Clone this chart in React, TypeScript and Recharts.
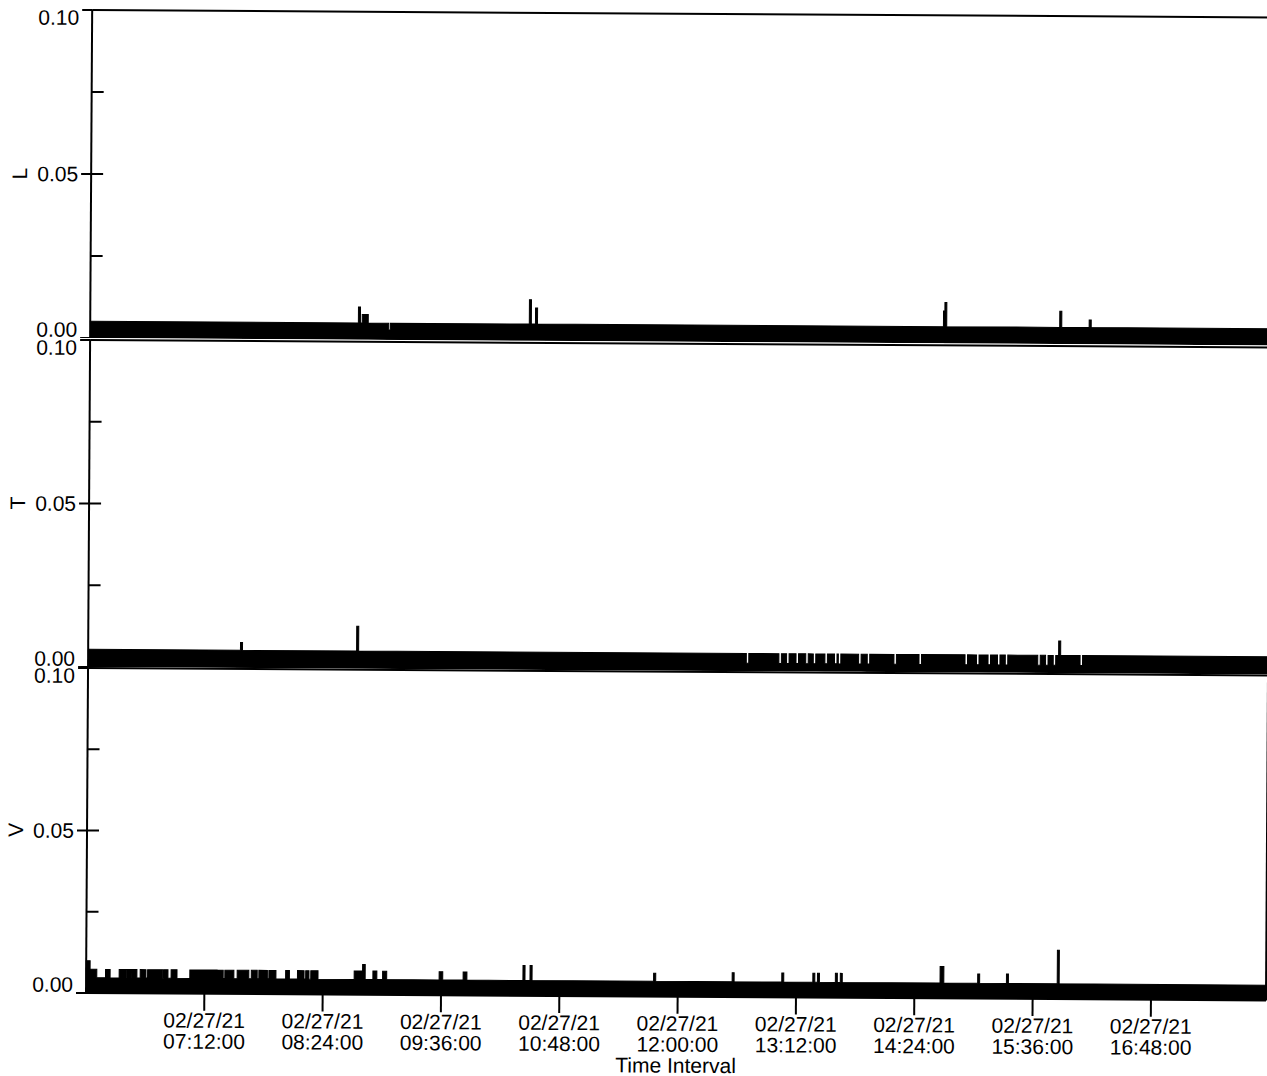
import React from "react";
import { AreaChart, Area, XAxis, YAxis, ReferenceLine } from "recharts";

// [start time, length in seconds, value]
type Ev = [string, number, number];

const DAY = "02/27/21";
const START = "06:00:00";
const END = "17:58:00";

const X_TICKS = ["07:12:00", "08:24:00", "09:36:00", "10:48:00", "12:00:00", "13:12:00", "14:24:00", "15:36:00", "16:48:00"];
const Y_TICKS = [0, 0.025, 0.05, 0.075, 0.1];
const Y_LABELS = [0, 0.05, 0.1];

// ── L ──
const L_BASE = 0.0051;
const L_EVENTS: Ev[] = [
  ["08:43:10", 75, 0.01],
  ["08:45:30", 220, 0.0077],
  ["09:01:40", 60, 0.003],
  ["10:27:10", 75, 0.0125],
  ["10:30:55", 75, 0.01],
  ["14:39:10", 50, 0.0099],
  ["14:40:00", 70, 0.0125],
  ["15:49:55", 75, 0.01],
  ["16:07:50", 75, 0.0074],
];

// ── T ──
const T_BASE = 0.0054;
const T_EVENTS: Ev[] = [
  ["07:32:40", 75, 0.0078],
  ["08:43:20", 75, 0.013],
  ["12:40:30", 90, 0.0024],
  ["13:00:20", 90, 0.0024],
  ["13:05:00", 90, 0.0024],
  ["13:10:45", 90, 0.0024],
  ["13:16:40", 90, 0.0024],
  ["13:21:15", 90, 0.0024],
  ["13:28:20", 90, 0.0024],
  ["13:34:10", 90, 0.0024],
  ["13:36:30", 90, 0.0024],
  ["13:48:50", 90, 0.0024],
  ["13:54:05", 90, 0.0024],
  ["14:10:20", 90, 0.0024],
  ["14:25:35", 90, 0.0024],
  ["14:53:35", 90, 0.0024],
  ["15:00:35", 90, 0.0024],
  ["15:07:35", 90, 0.0024],
  ["15:13:20", 90, 0.0024],
  ["15:18:05", 90, 0.0024],
  ["15:37:50", 90, 0.0024],
  ["15:42:35", 90, 0.0024],
  ["15:47:15", 90, 0.0024],
  ["15:50:30", 75, 0.0098],
  ["16:03:35", 90, 0.0024],
];

// ── V ──
const V_BASE = 0.0047;
const V_EVENTS: Ev[] = [
  ["06:00:00", 144, 0.0099],
  ["06:02:24", 246, 0.0073],
  ["06:11:48", 168, 0.0073],
  ["06:20:06", 282, 0.0073],
  ["06:25:24", 150, 0.0073],
  ["06:28:30", 144, 0.0073],
  ["06:32:54", 210, 0.0073],
  ["06:37:24", 552, 0.0073],
  ["06:47:12", 156, 0.0073],
  ["06:51:42", 216, 0.0073],
  ["07:03:06", 996, 0.0073],
  ["07:20:06", 198, 0.0073],
  ["07:24:24", 330, 0.0073],
  ["07:31:54", 426, 0.0073],
  ["07:40:30", 216, 0.0073],
  ["07:45:06", 312, 0.0073],
  ["07:51:12", 258, 0.0073],
  ["08:01:24", 138, 0.0073],
  ["08:08:36", 240, 0.0073],
  ["08:13:36", 120, 0.0073],
  ["08:16:42", 264, 0.0073],
  ["08:43:06", 306, 0.0073],
  ["08:48:12", 96, 0.0093],
  ["08:54:30", 144, 0.0073],
  ["09:00:24", 150, 0.0073],
  ["09:34:48", 132, 0.0072],
  ["09:49:24", 138, 0.0072],
  ["10:25:48", 75, 0.0093],
  ["10:30:06", 75, 0.0093],
  ["11:45:18", 78, 0.0072],
  ["12:33:06", 72, 0.0075],
  ["13:03:18", 72, 0.0075],
  ["13:22:12", 72, 0.0075],
  ["13:25:00", 72, 0.0075],
  ["13:35:54", 72, 0.0075],
  ["13:38:54", 72, 0.0075],
  ["14:39:36", 138, 0.0098],
  ["15:02:30", 72, 0.0076],
  ["15:20:00", 72, 0.0076],
  ["15:50:54", 72, 0.015],
];

const FONT = "'Liberation Sans', Arial, sans-serif";
const W = 1267;

function toMin(s: string) {
  const [h, m, sec] = s.split(":").map(Number);
  const [h0, m0] = START.split(":").map(Number);
  return h * 60 + m + sec / 60 - (h0 * 60 + m0);
}

function fmtTime(mins: number) {
  const [h0, m0] = START.split(":").map(Number);
  const total = Math.round(h0 * 60 + m0 + mins);
  const hh = String(Math.floor(total / 60)).padStart(2, "0");
  const mm = String(total % 60).padStart(2, "0");
  return `${hh}:${mm}:00`;
}

function buildSeries(base: number, events: Ev[]) {
  const pts = [{ t: 0, v: base }];
  events.forEach(([at, len, v]) => {
    const t0 = toMin(at);
    pts.push({ t: t0, v }, { t: t0 + len / 60, v: base });
  });
  pts.push({ t: toMin(END), v: base });
  return pts;
}

function YTick({ x, y, payload }: any) {
  const v = payload.value;
  if (!Y_LABELS.includes(v)) {
    return <line x1={x} x2={x + 12} y1={y} y2={y} stroke="#000" strokeWidth={2} />;
  }
  const dy = v === 0 ? -1 : v === 0.1 ? 15 : 7.5;
  return (
    <g>
      <line x1={x - 10} x2={v === 0.05 ? x + 12 : x} y1={y} y2={y} stroke="#000" strokeWidth={2} />
      <text x={x - 13} y={y + dy} textAnchor="end" fontFamily={FONT} fontSize={21} fill="#000">
        {v.toFixed(2)}
      </text>
    </g>
  );
}

function XTick({ x, y, payload }: any) {
  return (
    <g>
      <line x1={x} x2={x} y1={y} y2={y + 17} stroke="#000" strokeWidth={2} />
      <text x={x} y={y + 34} textAnchor="middle" fontFamily={FONT} fontSize={21} fill="#000">
        {DAY}
      </text>
      <text x={x} y={y + 55} textAnchor="middle" fontFamily={FONT} fontSize={21} fill="#000">
        {fmtTime(payload.value)}
      </text>
    </g>
  );
}

function AxisName({ viewBox, name }: any) {
  const cy = viewBox ? viewBox.y + viewBox.height / 2 : 0;
  const bx = 22;
  return (
    <text x={bx} y={cy} transform={`rotate(-90, ${bx}, ${cy})`} textAnchor="middle" fontFamily={FONT} fontSize={21} fill="#000">
      {name}
    </text>
  );
}

function Panel({ name, base, events, top, plotHeight, showX }: any) {
  const end = toMin(END);
  const xH = showX ? 83 : 0;
  return (
    <div style={{ position: "absolute", left: 0, top }}>
      <AreaChart
        width={W}
        height={10 + plotHeight + xH}
        data={buildSeries(base, events)}
        margin={{ top: 10, right: 1, bottom: 0, left: 0 }}
      >
        <XAxis
          dataKey="t"
          type="number"
          domain={[0, end]}
          ticks={X_TICKS.map(toMin)}
          interval={0}
          hide={!showX}
          height={xH}
          tickSize={0}
          tickMargin={0}
          tickLine={false}
          axisLine={{ stroke: "#000", strokeWidth: 2 }}
          tick={<XTick />}
          label={showX ? { value: "Time Interval", position: "insideBottom", offset: 7, fill: "#000", fontSize: 21, fontFamily: FONT } : undefined}
        />
        <YAxis
          width={86}
          type="number"
          domain={[0, 0.1]}
          ticks={Y_TICKS}
          interval={0}
          tickSize={0}
          tickMargin={0}
          tickLine={false}
          axisLine={{ stroke: "#000", strokeWidth: 2 }}
          tick={<YTick />}
          label={<AxisName name={name} />}
        />
        <ReferenceLine y={0.1} stroke="#000" strokeWidth={2} />
        <ReferenceLine x={end} stroke="#000" strokeWidth={2} />
        <Area
          type="stepAfter"
          dataKey="v"
          stroke="#000"
          strokeWidth={1}
          fill="#000"
          fillOpacity={1}
          dot={false}
          activeDot={false}
          isAnimationActive={false}
        />
      </AreaChart>
    </div>
  );
}

export default function App() {
  return (
    <div
      style={{
        position: "absolute",
        left: 0,
        top: 0,
        width: W,
        height: 1076,
        background: "#fff",
        transform: "rotate(0.36deg)",
        transformOrigin: "86px 993px",
      }}
    >
      <Panel name="L" base={L_BASE} events={L_EVENTS} top={0} plotHeight={328} showX={false} />
      <Panel name="T" base={T_BASE} events={T_EVENTS} top={330} plotHeight={327} showX={false} />
      <Panel name="V" base={V_BASE} events={V_EVENTS} top={658} plotHeight={325} showX />
    </div>
  );
}
